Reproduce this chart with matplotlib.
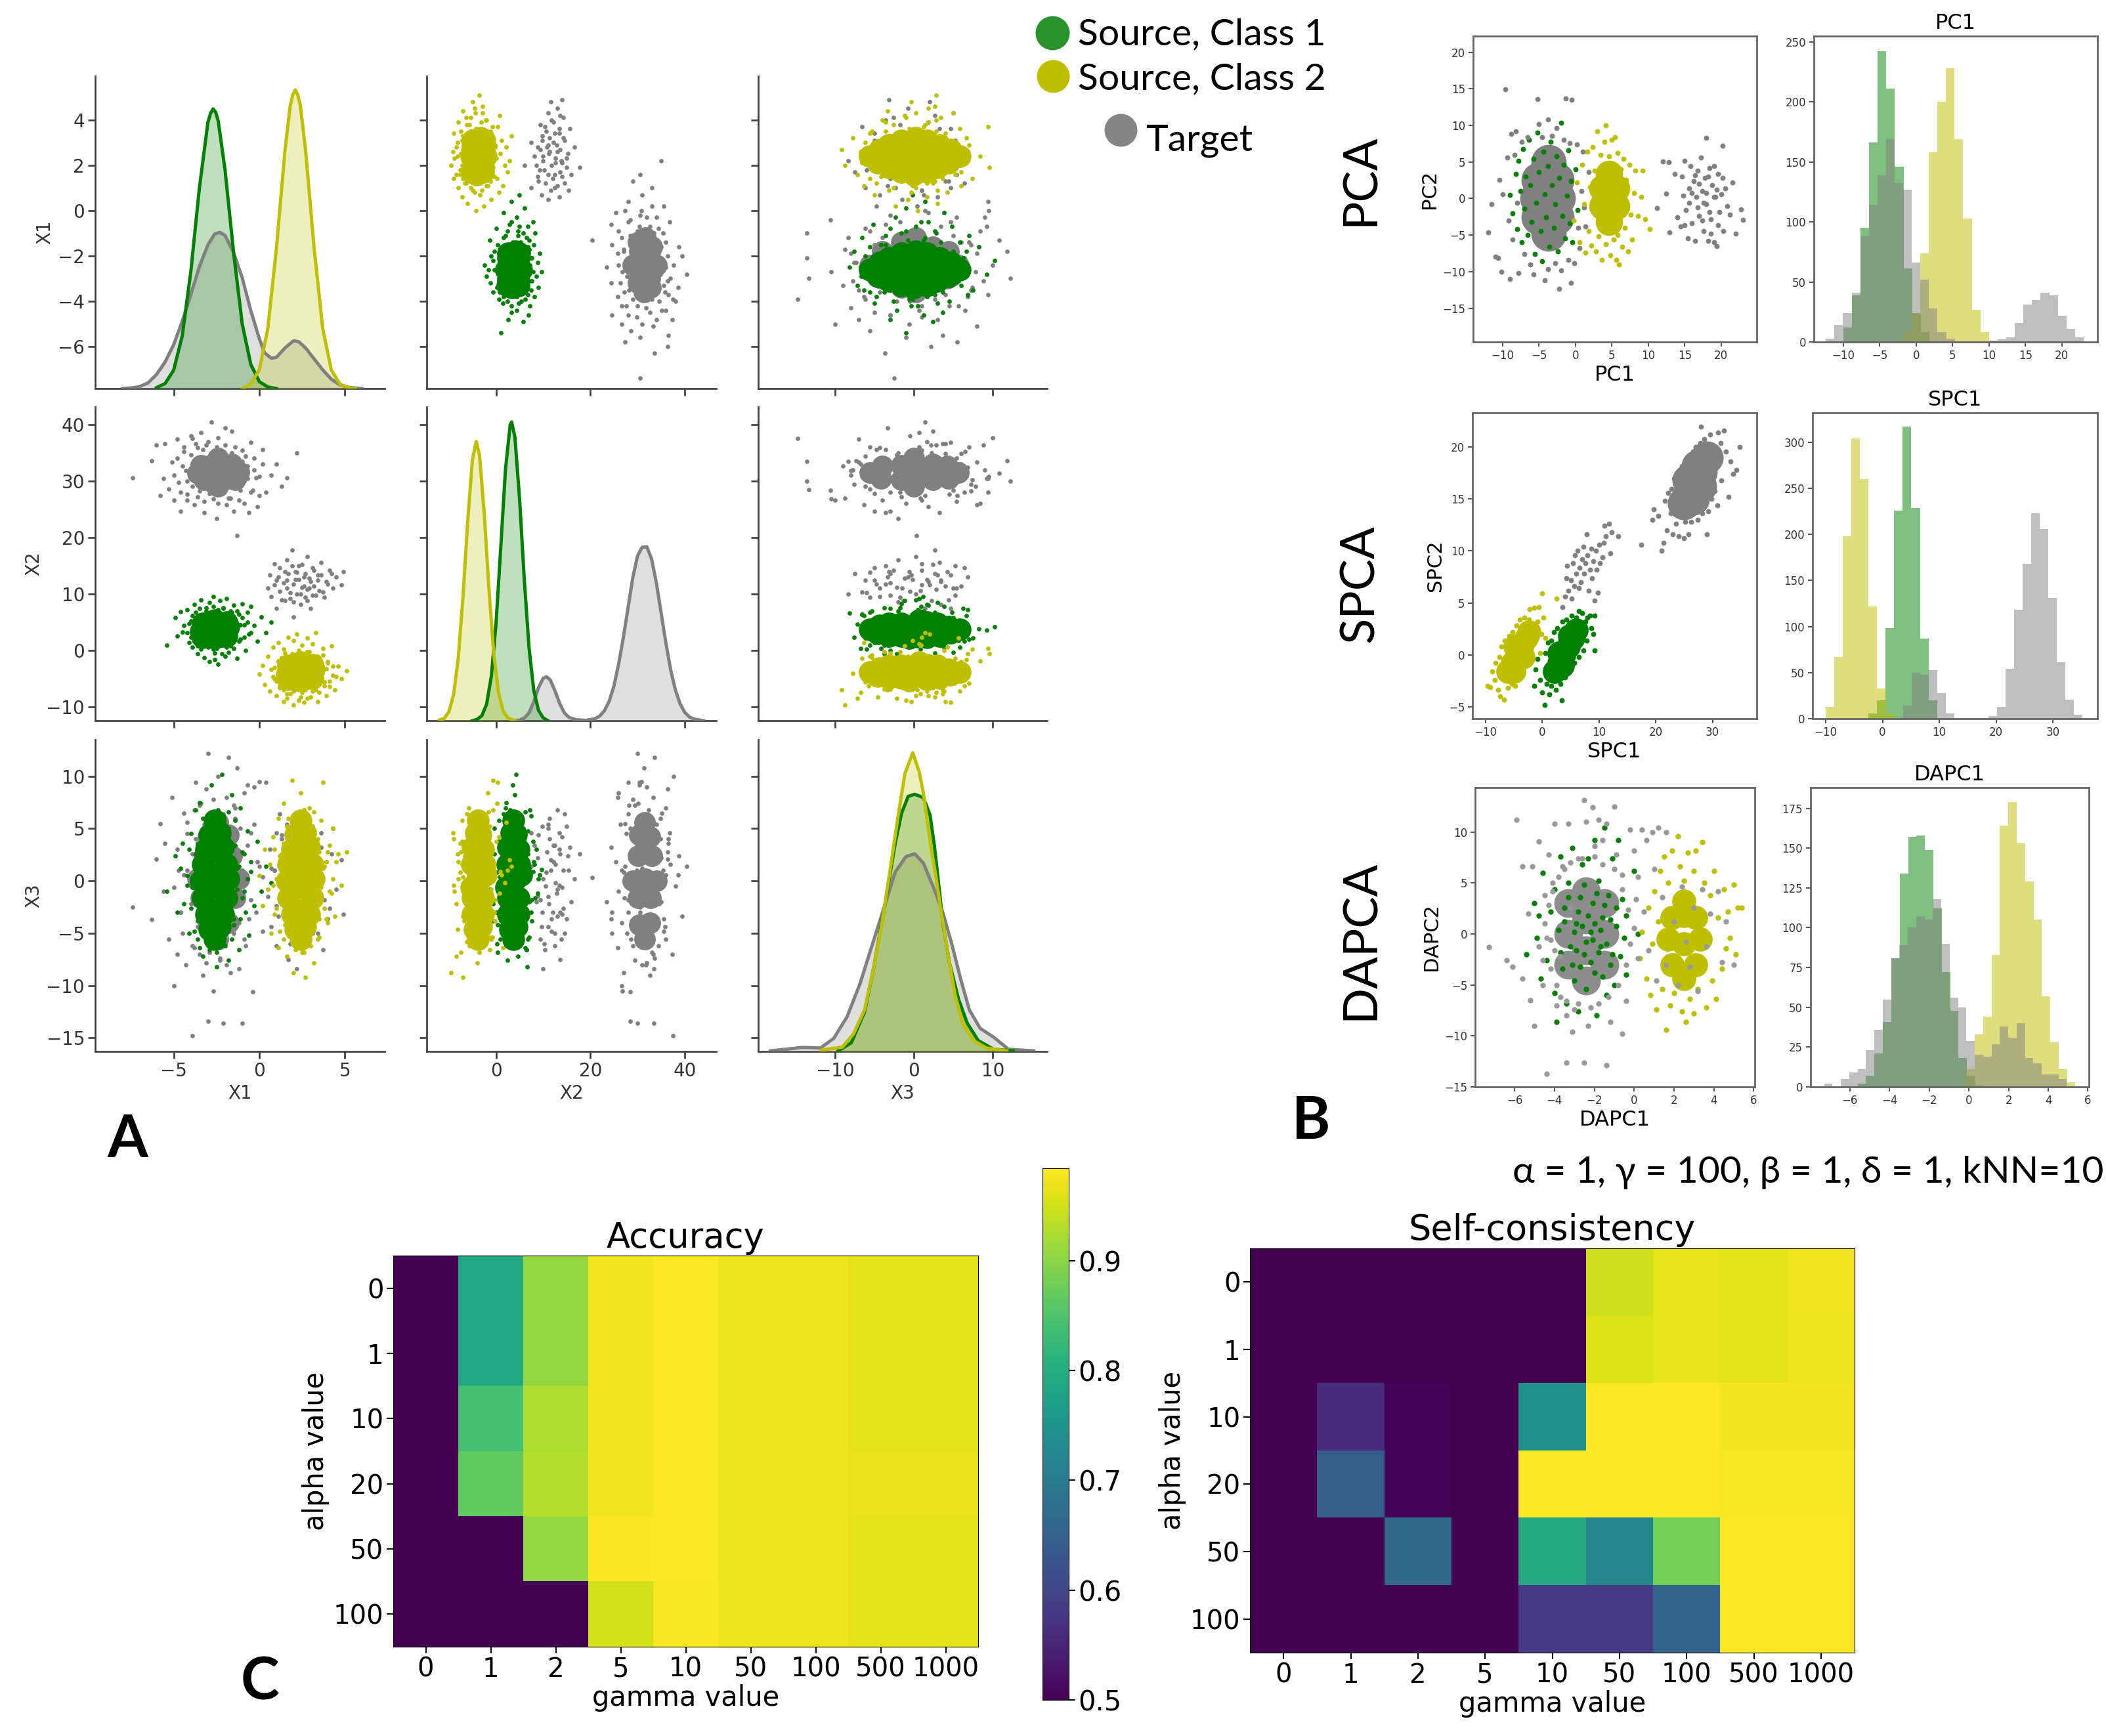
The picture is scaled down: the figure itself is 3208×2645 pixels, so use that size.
'''
Montage figure: pair plot of the raw data (A), PCA / SPCA / DAPCA projections
with histograms (B), and the two parameter heatmaps (C).
Scatter points are estimates of the clouds, far fewer than in the original,
so each dense middle is kept as a short "core" list drawn with wide markers.
'''
import numpy as np
import matplotlib
matplotlib.use('Agg')
import matplotlib.pyplot as plt

WIDTH, HEIGHT = 3208, 2645
GREEN, YELLOW, GRAY = 'green', '#bfbf00', 'gray'

feature_names = ['X1', 'X2', 'X3']
gamma_labels = ['0', '1', '2', '5', '10', '50', '100', '500', '1000']
alpha_labels = ['0', '1', '10', '20', '50', '100']

accuracy = [
    [.5, .79, .905, .975, .984, .972, .972, .965, .965],
    [.5, .79, .905, .975, .984, .972, .972, .965, .965],
    [.5, .84, .925, .975, .984, .972, .972, .965, .965],
    [.5, .865, .93, .975, .984, .972, .972, .968, .968],
    [.5, .5, .905, .982, .984, .972, .972, .965, .965],
    [.5, .5, .5, .952, .98, .972, .972, .965, .965],
]
self_consistency = [
    [.5, .5, .5, .5, .5, .945, .962, .96, .97],
    [.5, .5, .5, .5, .5, .955, .962, .96, .968],
    [.5, .56, .505, .5, .745, .98, .98, .972, .972],
    [.5, .645, .505, .5, .98, .98, .98, .975, .975],
    [.5, .5, .66, .5, .79, .72, .88, .98, .98],
    [.5, .5, .5, .5, .58, .58, .655, .98, .98],
]

# KDE curves of the pair plot diagonal, heights as a share of the panel
kde_x1_green = [(-6, .003), (-5.5, .016), (-5, .059), (-4.5, .168), (-4, .373), (-3.5, .64), (-3, .852), (-2.85, .88), (-2.7, .895),
                (-2.55, .885), (-2.4, .857), (-2, .70), (-1.5, .435), (-1, .208), (-.5, .078), (0, .022), (.5, .005), (1, 0)]
kde_x1_yellow = [(-1, 0), (-.5, .014), (0, .06), (.5, .193), (1, .449), (1.5, .763), (1.8, .904), (1.95, .94), (2.1, .956),
                 (2.25, .94), (2.4, .904), (2.7, .763), (3.2, .449), (3.7, .193), (4.2, .06), (4.7, .014), (5.2, .003), (5.6, 0)]
kde_x1_gray = [(-8, 0), (-7.5, .002), (-7, .006), (-6.5, .018), (-6, .045), (-5.5, .085), (-5, .14), (-4.5, .215),
               (-4, .30), (-3.5, .39), (-3, .46), (-2.6, .495), (-2.3, .50), (-2, .49), (-1.5, .435), (-1, .355),
               (-.5, .25), (0, .16), (.3, .115), (.7, .097), (1, .10), (1.5, .13), (2, .153), (2.3, .15), (2.7, .13),
               (3.2, .095), (3.7, .06), (4.2, .03), (4.7, .012), (5.2, .004), (6, 0)]
kde_x2_green = [(-5, 0), (-4, .004), (-3, .016), (-2, .052), (-1, .141), (0, .309), (1, .551), (2, .80), (3, .943),
                (3.3, .952), (4, .905), (5, .705), (6, .448), (7, .232), (8, .097), (9, .033), (10, .009), (11, 0)]
kde_x2_yellow = [(-12, .002), (-11, .007), (-10, .028), (-9, .083), (-8, .2), (-7, .396), (-6, .637), (-5, .833),
                 (-4.2, .89), (-3.5, .846), (-2.5, .66), (-1.5, .42), (-.5, .217), (.5, .091), (1.5, .031), (2.5, .009),
                 (4, 0)]
kde_x2_gray = [(4, 0), (5, .002), (6, .008), (7, .025), (8, .06), (9, .105), (10, .135), (10.7, .14), (11.5, .13),
               (12.5, .095), (13.5, .055), (14.5, .025), (15.5, .01), (17, .003), (19, .001), (21, .006), (22, .015),
               (23, .032), (24, .062), (25, .11), (26, .18), (27, .265), (28, .36), (29, .455), (30, .525), (31, .553),
               (32, .554), (33, .515), (34, .44), (35, .345), (36, .25), (37, .165), (38, .1), (39, .055), (40, .027),
               (41, .012), (42, .005), (44, 0)]
kde_x3_green = [(-9.64, .002), (-7.97, .028), (-6.3, .126), (-5.2, .26), (-3.8, .456), (-2.4, .667), (-1.58, .765),
                (-.75, .818), (.08, .825), (1.19, .814), (2.03, .758), (2.58, .66), (3.14, .533), (3.69, .407),
                (4.53, .281), (5.64, .168), (6.75, .091), (8.14, .035), (10.1, .007), (12.6, .002)]
kde_x3_yellow = [(-11.86, .004), (-9.1, .014), (-7.7, .056), (-6.3, .133), (-5.2, .26), (-4.1, .407), (-3, .59),
                 (-2.14, .737), (-1.17, .891), (-.17, .958), (.64, .898), (1.19, .828), (2.03, .674), (2.86, .547),
                 (3.4, .456), (4.25, .323), (5.2, .182), (6.2, .088), (7.56, .035), (9.2, .011), (11.8, .002)]
kde_x3_gray = [(-18.25, .002), (-14.1, .013), (-11.9, .011), (-10.2, .042), (-8.5, .112), (-6.86, .218), (-5.2, .351),
               (-3.8, .463), (-2.4, .575), (-1.03, .625), (.08, .634), (1.19, .604), (2.58, .519), (3.69, .442),
               (4.8, .344), (5.92, .232), (7.03, .133), (8.4, .074), (10.1, .046), (12, .007), (15.2, .002)]

# Pair plot clouds: X1, X2, X3 of each point
green_core = [(-2.6, 3.7, -5.6), (-2.9, 3.0, -4.6), (-2.3, 4.4, -4.4), (-3.1, 2.6, -3.2), (-2.1, 4.8, -3.2), (-2.6, 3.6, -2.8),
              (-3.3, 4.8, -1.6), (-1.9, 2.6, -1.6), (-2.6, 2.2, -.6), (-3.4, 3.4, 0), (-1.8, 4.2, .2), (-2.6, 5.4, .6),
              (-2.6, 3.8, 0), (-3.3, 2.4, 1.6), (-1.9, 5.0, 1.6), (-3.1, 4.8, 3), (-2.1, 2.6, 3.2), (-2.6, 3.7, 2.8),
              (-2.9, 4.2, 4.4), (-2.3, 3.2, 4.6), (-2.6, 3.7, 5.8)]
green_points = [(-5.4, 1.0, -1), (-4.9, 5.8, 2.4), (-4.8, 2.6, -3), (-4.6, 6.9, 1.2), (-4.5, 3.3, 3.6), (-4.4, 4.4, -2.2),
                (-4.2, 7.2, .5), (-4.1, 1.4, -5), (-4.0, 5.3, 4.5), (-3.9, .6, -.6), (-3.8, 8.1, 1.6), (-3.7, 3.0, 6.8),
                (-3.6, -.6, -3.8), (-3.5, 6.2, -6.4), (-3.5, 2.2, 7.5), (-3.4, 9.0, .2), (-3.3, 4.7, -7.2),
                (-3.2, -1.2, 2.1), (-3.1, 7.6, -1.8), (-3.1, 1.8, 5.6), (-3.0, 5.0, -4.6), (-2.9, -2.0, -.4),
                (-2.9, 8.5, 3.0), (-2.8, 3.6, 9.2), (-2.7, .2, -6.0), (-2.7, 9.6, 1.1), (-2.6, -1.6, -2.6),
                (-2.5, 6.6, -8.2), (-2.5, 2.8, 4.0), (-2.4, -2.4, .8), (-2.3, 8.8, -1.2), (-2.2, 4.2, 10.2),
                (-2.2, .9, -5.6), (-2.1, 7.4, 6.2), (-2.0, -1.0, 2.8), (-2.0, 5.6, -3.4), (-1.9, 9.2, .6),
                (-1.8, 2.4, -7.6), (-1.8, -.3, 5.0), (-1.7, 7.0, -2.0), (-1.6, 3.9, 8.2), (-1.5, 8.0, 1.8),
                (-1.5, .4, -4.2), (-1.4, 5.2, 3.4), (-1.3, -1.4, -.8), (-1.2, 6.4, -6.6), (-1.1, 2.0, 7.0),
                (-1.0, 8.3, -1.6), (-.9, 4.6, 2.6), (-.8, 0, -3.0), (-.7, 6.8, 4.8), (-.6, 2.9, -5.2), (-.5, 7.8, .9),
                (-.3, 4.4, -2.4), (-.1, 1.6, 3.8), (.1, 6.0, -1.0), (.4, 3.2, 1.4), (.7, 5.0, -.2)]
green_mid_points = [(-4.2, 3.2, -.4), (-4.1, 4.8, 3), (-4, 2.4, -2.6), (-3.9, 6.2, -.2), (-3.8, 1.6, 1.6), (-3.8, 4.4, -4.8),
                    (-3.7, 6.8, 2.6), (-3.6, .8, 3.6), (-3.6, 2.6, -5.6), (-3.5, 7.4, -3), (-3.4, .2, .8), (-3.3, 3.4, 6),
                    (-3.2, 5.8, 5), (-3.1, 7, -5.4), (-3, .6, 5.8), (-2.9, 6.4, -6.6), (-2.8, 1, -3.8), (-2.7, 7.8, 3.8),
                    (-2.6, -.4, 2.6), (-2.5, .4, -6.8), (-2.4, 7.2, 6.8), (-2.3, 1.6, 6.4), (-2.2, -.6, -2.2), (-2.1, 7.6, -3.8),
                    (-2, 2.2, -6.2), (-1.9, .6, 3.8), (-1.8, 6.2, 6.6), (-1.7, .8, .4), (-1.6, 6.8, -5.6), (-1.5, 2.4, -3.6),
                    (-1.4, 3.6, 5.8), (-1.3, 7, 1.2), (-1.2, 1.6, 1.4), (-1.1, 4.6, -3.6), (-1, 5.8, 2.8), (-.9, 2.4, -1),
                    (-.7, 5, .2), (-.5, 3.2, 1.8)]
yellow_core = [(2.4, -3.8, -5.6), (2.1, -4.5, -4.6), (2.7, -3.1, -4.4), (1.9, -4.9, -3.2), (2.9, -2.7, -3.2), (2.4, -3.9, -2.8),
               (1.7, -2.7, -1.6), (3.1, -4.9, -1.6), (2.4, -5.3, -.6), (1.6, -4.1, 0), (3.2, -3.3, .2), (2.4, -2.1, .6),
               (2.4, -3.7, 0), (1.7, -5.1, 1.6), (3.1, -2.5, 1.6), (1.9, -2.7, 3), (2.9, -4.9, 3.2), (2.4, -3.8, 2.8),
               (2.1, -3.3, 4.4), (2.7, -4.3, 4.6), (2.4, -3.8, 5.8)]
yellow_points = [(0, -4.2, .5), (.2, -2.6, -2.4), (.3, -6.0, 3.0), (.5, -1.0, -.8), (.6, -7.2, 1.6), (.7, -3.4, -5.0),
                 (.8, .6, 4.2), (.9, -5.0, -3.2), (1.0, -8.0, .2), (1.1, -2.0, 6.0), (1.1, 1.4, -6.4), (1.2, -6.6, 2.4),
                 (1.3, -3.8, -1.6), (1.4, -9.0, -.4), (1.4, .2, 7.4), (1.5, -5.4, -4.2), (1.6, -1.4, 5.2),
                 (1.6, -8.4, -7.2), (1.7, 2.4, 1.0), (1.8, -4.6, -2.0), (1.8, -7.6, 3.6), (1.9, -.6, 9.6),
                 (2.0, -9.6, -8.8), (2.0, 1.8, -.2), (2.1, -3.0, 6.4), (2.2, -6.2, -5.8), (2.2, 2.9, 2.0),
                 (2.3, -8.8, -1.0), (2.4, -1.8, 8.4), (2.4, -5.2, -3.6), (2.5, .9, .9), (2.6, -9.2, 4.6),
                 (2.6, -3.6, -6.8), (2.7, -7.0, -9.2), (2.8, 2.2, 5.6), (2.8, -.2, -1.8), (2.9, -5.8, 7.0),
                 (3.0, -8.2, -4.6), (3.0, -2.4, 3.2), (3.1, 1.2, .6), (3.2, -6.8, -3.0), (3.2, -4.0, -7.8),
                 (3.3, 3.2, 1.4), (3.4, -9.0, 4.0), (3.5, -1.2, -5.4), (3.5, -7.4, 2.8), (3.6, -3.2, -.6),
                 (3.7, .4, 9.4), (3.8, -5.6, -2.6), (3.9, -8.0, 1.8), (4.0, -2.2, -4.0), (4.1, -6.4, 3.4),
                 (4.2, .8, -1.2), (4.3, -4.4, 5.0), (4.4, -7.0, -3.4), (4.6, -2.8, 2.6), (4.8, -5.0, -.4), (5.1, -3.6, 2.8)]
yellow_mid_points = [(.8, -4.6, -.4), (.9, -3, 3), (1, -5.4, -2.6), (1.1, -1.8, -.2), (1.2, -6.4, 1.6), (1.2, -3.4, -4.8),
                     (1.3, -1.2, 2.6), (1.4, -7, 3.6), (1.4, -5.2, -5.6), (1.5, -.4, -3), (1.6, -7.6, .8), (1.7, -4.4, 6),
                     (1.8, -2, 5), (1.9, -.8, -5.4), (2, -7.2, 5.8), (2.1, -1.4, -6.6), (2.2, -6.8, -3.8), (2.3, 0, 3.8),
                     (2.4, -8.2, 2.6), (2.5, -7.4, -6.8), (2.6, -.6, 6.8), (2.7, -6.2, 6.4), (2.8, -8.4, -2.2), (2.9, -.2, -3.8),
                     (3, -5.6, -6.2), (3.1, -7.2, 3.8), (3.2, -1.6, 6.6), (3.3, -7, .4), (3.4, -1, -5.6), (3.5, -5.4, -3.6),
                     (3.6, -4.2, 5.8), (3.7, -.8, 1.2), (3.8, -6.2, 1.4), (3.9, -3.2, -3.6), (4, -2, 2.8), (4.1, -5.4, -1),
                     (4.3, -2.8, .2), (4.5, -4.6, 1.8)]
target_main_core = [(-2.4, 31.5, -5.6), (-3, 30.4, -4.2), (-1.8, 32.6, -4), (-3.4, 32.8, -1.6), (-1.4, 30.2, -1.6), (-2.4, 29, 0),
                    (-2.4, 34, 0), (-3.6, 31.4, .2), (-1.2, 31.6, .2), (-2.4, 31.5, 0), (-3.2, 30.2, 2.4), (-1.6, 33, 2.4),
                    (-2.4, 31.5, 3), (-3, 32.6, 4.2), (-1.8, 30.4, 4.4), (-2.4, 31.5, 5.6)]
target_main_points = [(-7.4, 30.6, -2.5), (-6.3, 33.6, -3.7), (-6.0, 36.4, 2.1), (-5.8, 27.4, 5.5), (-5.6, 30.5, -1.0),
                      (-5.5, 36.6, 3.6), (-5.3, 28.6, -5.6), (-5.1, 33.4, 8.0), (-5.0, 26.6, -10.0), (-4.8, 37.4, -7.0),
                      (-4.7, 29.8, 1.0), (-4.6, 24.6, -3.0), (-4.4, 35.2, 6.5), (-4.3, 31.8, -8.0), (-4.2, 27.6, 4.5),
                      (-4.0, 38.0, -.5), (-3.9, 37.5, -14.8), (-3.9, 33.0, 2.6), (-3.8, 25.8, -6.4), (-3.7, 30.4, 9.4),
                      (-3.6, 35.9, -4.4), (-3.5, 28.2, 7.2), (-3.4, 38.6, .6), (-3.3, 32.6, -9.0), (-3.2, 24.4, 3.2),
                      (-3.1, 36.4, 8.8), (-3.0, 28.5, -13.4), (-3.0, 30.0, 12.2), (-2.9, 33.0, -6.8), (-2.8, 40.4, 1.4),
                      (-2.7, 26.8, -10.5), (-2.6, 31.6, 6.0), (-2.5, 23.4, -2.0), (-2.4, 37.6, 10.0), (-2.3, 29.4, -7.6),
                      (-2.2, 34.8, 4.0), (-2.1, 30.0, -13.6), (-2.0, 39.4, -3.4), (-1.9, 25.8, 8.0), (-1.8, 33.6, 11.8),
                      (-1.7, 27.0, -8.8), (-1.6, 38.8, 2.4), (-1.5, 24.6, -5.0), (-1.4, 36.0, 7.0), (-1.3, 20.4, .3),
                      (-1.3, 31.4, 10.8), (-1.2, 33.5, -8.4), (-1.1, 28.4, 5.0), (-1.0, 33.5, -13.6), (-.9, 26.0, 8.4),
                      (-.8, 34.4, -6.2), (-.7, 30.4, 9.2), (-.6, 24.4, -3.6), (-.5, 36.8, 4.6), (-.4, 28.4, -10.6),
                      (-.3, 32.0, 9.0), (-.1, 25.4, 1.8), (0, 30.8, 9.5), (.2, 35.6, -4.8), (.4, 28.0, 9.4),
                      (.7, 31.0, 1.2), (1.0, 33.0, -2.4), (1.3, 29.0, 4.0), (1.6, 30.6, -.8), (2.2, 35.0, 2.2)]
target_main_mid_points = [(-5, 31, -.6), (-4.8, 34, 3), (-4.6, 28, -3), (-4.5, 32.6, -5), (-4.4, 36, .6), (-4.2, 30, 5.6),
                          (-4.2, 26.6, 1), (-4, 34.6, -2.2), (-3.9, 29, -6.2), (-3.8, 32.4, 6.8), (-3.7, 36.6, 4), (-3.6, 27.2, -1.6),
                          (-3.5, 33.4, -7), (-3.4, 30.2, 7.4), (-3.3, 35.6, -3.6), (-3.2, 26.4, 5.4), (-3.1, 32, -7.8), (-3, 37, 1.6),
                          (-2.9, 27.8, -5), (-2.8, 34.8, 6), (-2.7, 29, 7.8), (-2.5, 36, -5.6), (-2.4, 26, -1), (-2.3, 33.6, -7.4),
                          (-2.1, 28, 6.4), (-2, 36.4, 2.8), (-1.9, 31, -8), (-1.8, 27, .8), (-1.6, 35, -2), (-1.5, 29.4, 7.2),
                          (-1.4, 33, 6), (-1.2, 26.6, -4), (-1, 35.4, 1), (-.9, 30, -5.6), (-.7, 32.6, 3.4), (-.5, 28, -1.8),
                          (-.3, 34, 5.4), (-.2, 30.6, -3), (0, 27.4, 1.4), (.2, 33, .4)]
target_small_points = [(.5, 11.0, -1.5), (.6, 13.4, 3.0), (.7, 9.6, -4.4), (.9, 15.4, 1.0), (1.0, 12.4, -6.2), (1.0, 7.5, 4.6),
                       (1.2, 10.5, -.5), (1.2, 14.6, 6.4), (1.4, 12.0, -3.0), (1.5, 8.8, 2.2), (1.6, 16.0, -2.0),
                       (1.6, 11.0, 5.4), (1.7, 13.6, -7.5), (1.8, 9.2, .6), (1.9, 17.8, 2.6), (2.0, 11.8, -4.8),
                       (2.0, 6.0, -1.0), (2.1, 14.0, 4.2), (2.2, 10.0, -8.4), (2.3, 12.6, 1.6), (2.3, 15.0, -3.6),
                       (2.4, 8.2, 3.4), (2.5, 11.2, -2.2), (2.6, 13.0, 6.8), (2.7, 9.4, -5.6), (2.8, 16.6, .2),
                       (2.8, 10.8, 2.8), (2.9, 12.8, -1.2), (3.0, 7.4, 1.4), (3.1, 14.6, -5.0), (3.2, 11.4, 4.0),
                       (3.3, 9.8, -3.0), (3.4, 13.4, -.4), (3.6, 15.6, 3.2), (3.7, 10.4, -6.6), (3.9, 12.2, 1.8),
                       (4.1, 14.2, -2.6), (4.3, 11.0, 5.0), (4.5, 13.0, -.8), (4.8, 11.6, 2.0), (4.9, 14.0, -3.2),
                       (.9, 11.6, 1), (1.1, 13, -3.4), (1.3, 9, 4.4), (1.5, 14, -.6), (1.6, 12.4, 3.4), (1.8, 10.2, -6),
                       (1.9, 15, 5.2), (2, 8.6, -2), (2.1, 12.6, -.2), (2.2, 13.8, -5.6), (2.4, 10, .2), (2.5, 15.2, 2.4),
                       (2.6, 11.4, 6), (2.7, 13.6, -3), (2.8, 8.8, -1.4), (2.9, 11, -4.4), (3, 12.2, 3.4), (3.1, 9.8, 5.2),
                       (3.2, 14.2, 1), (3.4, 12.4, -5), (3.5, 10.6, .8), (3.6, 13.4, 4.6), (3.8, 9.4, -1.8), (4, 11.8, -3.6),
                       (4.2, 13.6, 2.6)]

# PCA scatter: PC1, PC2
pca_green_points = [(-9, .5), (-8.6, -2), (-8.2, 3.4), (-8, -4.2), (-7.8, 5.2), (-7.6, 1), (-7.4, -6), (-7.2, 6.8), (-7, -1.4),
                    (-6.8, 3), (-6.6, -5), (-6.4, 8), (-6.2, 1.8), (-6, -3.2), (-5.8, 5.4), (-5.6, -7.6), (-5.4, -.6),
                    (-5.2, 9), (-5, 3.6), (-4.8, -4.4), (-4.6, -8.6), (-4.4, 6.4), (-4.2, .6), (-4, -2.6), (-3.8, 4.4),
                    (-3.6, -6.6), (-3.4, 7.8), (-3.2, 1.8), (-3, -4), (-2.8, -.8), (-2.6, 5.8), (-2.4, -7.2), (-2.2, 2.8),
                    (-2, 10.4), (-1.8, -2.4), (-1.6, 4.6), (-1.4, -5.4), (-1.2, .4), (-1, 6.6), (-.8, -3.4), (-.6, 2.4),
                    (-.4, -6), (0, 4), (.3, -1.6)]
pca_gray_core = [(-3.7, -4.8), (-5, -2.6), (-2.6, -2.6), (-5.2, 0), (-3.7, 0), (-2.4, 0), (-5, 2.6), (-2.6, 2.6), (-3.7, 5)]
pca_gray_points = [(-12, -4.6), (-11.5, -.8), (-11, -7.9), (-10.6, -8.1), (-10.4, 2.6), (-10.2, -10), (-9.6, 14.9), (-10, .6),
                   (-9.4, 5.6), (-9.2, -3), (-9, -11), (-8.8, 8.8), (-8.6, -5.6), (-8.4, 6), (-8.2, 9.2), (-8, -.6), (-7.8, -10.2),
                   (-7.4, 7.8), (-7, -7.6), (-6.6, 8.4), (-6.2, -9), (-5.8, -10.4), (-5.2, 13.6), (-5, 10.2), (-4.6, 8.4),
                   (-4.2, -11.2), (-3.8, -9.6), (-3.8, 10.8), (-3.2, 8.6), (-2.8, -8.8), (-2.6, 9.6), (-2.2, -12.3), (-2, -9.8),
                   (-1.6, 8), (-1.3, 13.7), (-1, -8.4), (-.8, 7.6), (-.6, -11.5), (-.5, 13.5), (-.2, -8.8), (.2, 7.4), (.6, -6.8),
                   (1, 6.4), (1.4, -3.8), (1.8, 3.6), (.8, 1), (1.2, -1.2), (.4, -4)]
pca_gray_far_points = [(11.2, -1.3), (12, 5.1), (12.5, .7), (12.8, 5), (12.9, -4.6), (13.6, 3.4), (14, -2.6), (14.4, -3.8), (14.8, .4),
                       (15, 5.2), (15.2, -1.6), (15.4, -5.4), (15.6, 1.4), (15.8, 4.4), (16, -3.4), (16.2, 2.4), (16.4, -5.8), (16.6, .2),
                       (16.8, 3.8), (17, -2.4), (17.2, 5.6), (17.4, 1), (17.6, -4.4), (17.8, 2.8), (18, 8.3), (18, -.8), (18.2, -5.8),
                       (18.4, 4.2), (18.6, -2.8), (18.8, 1.8), (19, -6), (19.2, .2), (19.4, -6.5), (19.6, 3.4), (19.8, -1.8), (20.2, 7.2),
                       (20.3, -4.4), (20.6, 1.4), (21.2, -2.2), (21.6, 2.2), (22, -4.8), (22.7, -1.5), (23, -2.9),
                       (14.6, 3), (15, -3.6), (15.6, -.6), (16, .8), (16.4, 3.2), (16.8, -1.2), (17, 2), (17.4, -3), (17.6, -.6), (18, .8),
                       (18.2, 3), (18.4, -1.8), (18.6, -4.8), (19, .2), (19, 4.4), (19.4, 1.2), (19.6, -3.6), (20, .6), (20.2, 2.8), (20.8, -1)]
pca_yellow_core = [(4.6, -3.2), (3.7, -1), (5.6, -1), (3.7, 1.4), (5.6, 1.4), (4.6, 3.4)]
pca_yellow_points = [(-.3, -3), (.2, 2.2), (.6, -6), (.9, 4.6), (1.2, -.8), (1.4, -7.4), (1.6, 6.4), (1.8, -4.4), (2, 1.6), (2.2, -6.4),
                     (2.4, 7), (2.6, 3.8), (2.8, -7.2), (3, 9.2), (3.2, -5.2), (3.4, 6), (3.6, -8.4), (4, 7.8), (4.2, -6.2), (4.2, 10), (4.6, 5.8),
                     (4.8, -7.8), (5, 8), (5.2, -5.6), (5.4, 8.4), (5.6, -8.4), (5.8, 6.2), (5.8, -5), (6, -9), (6.2, 4), (6.4, -6.6), (6.6, 5.4),
                     (6.8, -4), (7, 2.6), (7.2, -7.2), (7.4, 4.6), (7.6, -2.2), (7.8, -5.6), (8, .8), (8.2, 3.8), (8.6, -2.4), (9, .2),
                     (9.2, 3.8), (9.6, -2.8), (10.2, -4.2)]

# SPCA scatter: SPC1, SPC2
spca_green_core = [(2.2, -1.6), (3, -.8), (3.8, 0), (4.6, .8), (5.4, 1.6), (6, 2.4), (3.6, -1), (4.8, 1.8), (3, .2)]
spca_green_points = [(-1.4, -3), (-1.2, -1.4), (-.9, -.4), (-.4, -2.4), (0, -3.6), (.4, -4.8), (.6, .2), (.8, -2.8), (1, 1.2), (1.2, -3.8),
                     (1.6, -3), (1.6, 1.4), (2, 2.2), (2.4, -3.4), (2.6, -.8), (2.6, 2.6), (3.2, -2.8), (3.4, -4.4), (3.6, 3.2), (4, -2.2), (4.2, 3.4),
                     (4.6, -1.6), (5, 3), (5.2, 3.8), (5.6, -.8), (6, 3.6), (6.4, 4.2), (6.4, -.2), (6.8, 2.6), (7, 4), (7.2, .4), (7.6, 3.2),
                     (7.8, 1.4), (8, 3.6), (8.4, 3.8), (8.6, 2.6), (9, 2), (9.2, 3.8), (9.2, .4)]
spca_yellow_core = [(-6, -1.6), (-5.2, -.8), (-4.4, 0), (-3.6, .8), (-2.8, 1.6), (-2.4, 2.2), (-5, -1.6), (-3.4, -.2), (-4.8, .8)]
spca_yellow_points = [(-9.6, -3), (-9.2, -3.1), (-8.8, -1.6), (-8.4, -2.4), (-8.2, -.8), (-7.8, -3.4), (-7.6, -.2), (-7.4, -4), (-7.2, .8),
                      (-6.8, -4.3), (-6.8, -2.4), (-6.6, 1.4), (-6, -3.2), (-5.8, 1.8), (-5.4, -2.8), (-5.2, 2.2), (-4.8, -3), (-4.6, 2.8),
                      (-4.2, -2), (-4, 3.4), (-3.8, 2), (-3.4, -1.6), (-3.2, 3.6), (-2.8, -1), (-2.4, 3.4), (-2.2, 4.4), (-1.8, -.4), (-1.6, 3),
                      (-1.4, 4.5), (-1.2, 1.4), (-.8, 3.2), (-.6, 4.6), (-.4, .2), (-.2, 2), (0, 5.9), (.2, 3.6), (.5, 1.6), (2.5, 5.4)]
spca_gray_mid_points = [(3.6, 4.6), (4, 5.6), (4.2, 7.4), (4.4, 8.6), (4.6, 6.2), (5, 7.2), (5.2, 5.4), (5.4, 8.8), (5.6, 6.6), (5.8, 9.6),
                        (6, 7.8), (6.2, 10), (6.4, 6.4), (6.6, 8.4), (6.8, 7), (7, 9.2), (7.2, 10.4), (7.4, 7.8), (7.6, 8.8), (7.8, 11.6), (8, 9.6),
                        (8.2, 6.2), (8.4, 8.2), (8.6, 10.2), (8.8, 7.4), (9, 9), (9.2, 5.2), (9.4, 10), (9.6, 8.2), (9.8, 6), (10, 10.6), (10.2, 8.8),
                        (10.6, 9.4), (10.8, 10.8), (11.2, 11.4), (11, 12.4), (11.8, 12.6), (12, 9.8), (12.2, 11.8), (13.4, 11.4)]
spca_gray_core = [(25, 14.6), (26, 15.6), (27, 16.6), (28, 17.6), (29, 19), (26.6, 15), (27.8, 16.2), (25.8, 16.8), (27.4, 18.2)]
spca_gray_points = [(17.4, 10.6), (19.4, 13), (19.6, 14), (20.4, 13.4), (21, 10), (21.4, 10.8), (21.6, 14.8), (22, 12), (22.2, 15.6), (22.6, 13.6),
                    (22.8, 16), (23, 11.6), (23.2, 17), (23.6, 12.6), (24, 11.4), (24.2, 16.8), (24.6, 18.2), (25, 11.2), (25.2, 12.8), (25.4, 18.8),
                    (25.8, 11.6), (26, 19.2), (26.2, 12.8), (26.6, 19.6), (27, 20), (27.4, 13), (27.8, 20.4), (28, 22), (28.2, 13.6), (28.6, 20.8),
                    (29, 11.6), (29.2, 13.8), (29.6, 21.2), (29.8, 15), (30, 20), (30.4, 15.8), (30.8, 14.4), (31, 21.4), (31.4, 20.4), (31.6, 16.8),
                    (32, 21.6), (32.4, 19.6), (32.8, 15.2), (33.2, 18.6), (33.6, 17.4), (34.2, 17.8), (34.8, 20)]

# DAPCA scatter: DAPC1, DAPC2
dapca_green_points = [(-5.4, -2), (-5, 3), (-4.9, -.4), (-4.8, 1.8), (-4.7, -4.4), (-4.6, 6), (-4.4, -2.6), (-4.2, 2.2), (-4, -5.8), (-4, 4.4),
                      (-3.9, -8.6), (-3.8, .4), (-3.7, 7.6), (-3.6, -3.4), (-3.5, 2.6), (-3.4, -6.8), (-3.3, 5), (-3.2, -1.2), (-3.1, 8.4), (-3, -4.6),
                      (-2.9, 1), (-2.8, -7.6), (-2.7, 3.6), (-2.6, 6.8), (-2.5, -2), (-2.4, -5.4), (-2.3, 7.4), (-2.2, .2), (-2.1, 3), (-2, -3.8),
                      (-2, 9.2), (-1.9, -8), (-1.8, 5.2), (-1.7, -1.2), (-1.6, 1.6), (-1.5, 10.4), (-1.4, -6), (-1.3, 3.8), (-1.2, -3), (-1.1, 7.4),
                      (-1, -5), (-.9, .8), (-.8, 9.2), (-.7, -2.2), (-.6, 3.4), (-.5, -.4), (-.4, 1.8), (-.4, -4), (0, 6.2), (.2, 0),
                      (-3.7, -1.8), (-3.5, 1.2), (-3.3, 3.6), (-3.1, -3), (-3, .2), (-2.9, -1.6), (-2.8, 2.2), (-2.7, -3.2), (-2.6, .8), (-2.5, 4.8),
                      (-2.4, -.8), (-2.3, 1.8), (-2.2, -2.8), (-2.1, -.6), (-2, 1), (-1.9, 4), (-1.8, -1.8), (-1.7, .4), (-1.6, -4.2), (-1.5, 2.8),
                      (-1.4, -1), (-1.2, 1.4), (-1.1, -2), (-.9, 2.6)]
dapca_gray_core = [(-3.3, -3), (-3.3, 0), (-3.3, 3), (-2.4, -4.6), (-2.4, -1.6), (-2.4, 1.4), (-2.4, 4.2), (-1.5, -3), (-1.5, 0), (-1.5, 3)]
dapca_gray_points = [(-7.3, -1.3), (-6.4, -2.6), (-6.1, -3.2), (-5.9, 11.2), (-5.6, 6.6), (-5.6, -4.4), (-5.3, 2), (-5.2, -6.5), (-5.1, 6.6), (-5, -9),
                     (-4.8, 9.1), (-4.8, -1.2), (-4.6, -5), (-4.5, 3.8), (-4.4, -13.7), (-4.3, 7.8), (-4.2, -.6), (-4.1, 5), (-4, 10.8), (-3.9, -7), (-3.7, -2.2),
                     (-3.5, 6.4), (-3.4, -12.6), (-3.4, -8), (-3.3, 10.8), (-3.2, 2.6), (-3.1, -9.6), (-2.8, 7.4), (-2.5, -12.6), (-2.5, 13.1), (-2.4, 11), (-2.3, -9),
                     (-2.1, 12.4), (-2, 8.6), (-1.8, 11.2), (-1.6, 9.2), (-1.4, -12.9), (-1.4, 10.8), (-1.2, -8.6), (-1, 12.5), (-.9, 7.8), (-.6, -9.8), (-.6, 5.8),
                     (-.4, -6.6), (-.2, 10.2), (0, 8.2), (.2, 5.6), (.4, 10.2), (.5, 2.2), (.6, 9.2), (.7, -1.6), (.9, 10), (1, 6.4), (1.1, -4.6), (1.2, 10.4), (1.4, 3.6),
                     (1.6, -3), (1.6, 10), (2, 1.2), (2.2, -5), (2.4, 4.6), (2.6, -.8), (2.8, -3.2), (3, 2.6), (3.2, -5.6), (3.4, 4.4), (3.6, -1.2), (3.8, 2), (4.2, 4.2),
                     (4.4, -2.8), (4.6, 1.2), (5, -3),
                     (-4.6, -2.6), (-4.5, 1), (-4.4, -.4), (-4.3, 2.8), (-4.2, -3.4), (-4.1, 4.2), (-4, -1.6), (-3.9, -5), (-3.8, 5.6), (-3.7, -6.2), (-3.6, 6.6),
                     (-3.4, -6.6), (-3.2, 7), (-3, -7.4), (-2.8, -6.8), (-2.6, 7.4), (-2.2, -7.2), (-2, 7.6), (-1.8, -6.8), (-1.6, 6.8), (-1.3, -6.2), (-1, 6.4),
                     (-.8, -5), (-.6, 4.4), (-.4, -3), (-.3, 2.4), (-.2, -1), (0, .6), (.1, 3.4), (.2, -2.4)]
dapca_yellow_core = [(1.9, -3), (3.1, -3), (2.5, -4.4), (1.7, -.5), (3.3, -.5), (2.5, -1), (2.5, 1.8), (1.9, 1.6), (3.1, 1.6), (2.5, 3.2)]
dapca_yellow_points = [(.3, -2.4), (.4, .2), (.6, -4.4), (.7, 2.6), (.8, -6), (.9, -1), (1, 4.2), (1.1, -7.4), (1.2, 1.2), (1.3, 6.2), (1.4, -5.4), (1.5, 7.6),
                       (1.6, -9.4), (1.7, 5), (1.8, -7), (1.9, 8.2), (2, -5.8), (2.2, 9.6), (2.3, 6.6), (2.4, -7.6), (2.5, 5.2), (2.6, -8.6), (2.7, 8), (2.8, -6.4),
                       (3, 6.2), (3, -7.8), (3.1, 8.2), (3.2, -5.4), (3.4, 9), (3.5, 5), (3.6, -7.2), (3.8, 3.8), (3.9, -4.6), (4, 6.2), (4.1, -6.4), (4.2, 1.6), (4.4, -3.4),
                       (4.5, 4.4), (4.6, -1.4), (4.7, 2.2), (4.8, -.4), (5, 4.8), (5.1, -2), (5.2, 2.6), (5.4, 2.6)]

# Histogram bar heights and the range their bins cover
pca_hist_green = [12, 39, 95, 166, 242, 211, 146, 61, 24, 8]
pca_hist_yellow = [1, 1, 8, 24, 74, 158, 200, 228, 169, 103, 27, 8, 1]
pca_hist_gray = [3, 14, 24, 41, 88, 114, 139, 169, 132, 127, 66, 52, 28, 8, 3, 0, 0, 0, 0, 1, 2, 4, 16, 31, 35, 41, 39, 22, 11, 4]
pca_hist_ranges = [(-10, 1.8), (-4.2, 11.2), (-12.4, 23.0)]
spca_hist_green = [6, 20, 98, 226, 317, 229, 87, 20]
spca_hist_yellow = [13, 67, 198, 304, 260, 122, 33, 6, 1]
spca_hist_gray = [14, 50, 48, 53, 28, 6, 1, 0, 0, 1, 3, 13, 54, 118, 168, 223, 206, 131, 61, 21, 4]
spca_hist_ranges = [(-2.48, 9.6), (-10, 3.6), (3.6, 35.2)]
dapca_hist_green = [2, 7, 21, 41, 81, 134, 157, 158, 149, 112, 72, 48, 18, 7, 1]
dapca_hist_yellow = [1, 11, 33, 44, 83, 164, 179, 153, 129, 105, 57, 28, 11, 3]
dapca_hist_gray = [2, 0, 5, 9, 11, 23, 36, 55, 81, 89, 100, 107, 105, 118, 90, 56, 50, 29, 20, 19, 27, 38, 31, 40, 18, 15, 8, 8, 5]
dapca_hist_ranges = [(-5.61, .75), (-.55, 5.37), (-7.3, 4.94)]


def px_axes(fig, left, top, right, bottom, **kwargs):
    return fig.add_axes([left / WIDTH, 1 - bottom / HEIGHT,
                         (right - left) / WIDTH, (bottom - top) / HEIGHT], **kwargs)


def style_spines(ax, color, width, full_box=False):
    for name, spine in ax.spines.items():
        spine.set_color(color)
        spine.set_linewidth(width)
        if name in ('top', 'right') and not full_box:
            spine.set_visible(False)


def draw_kde(ax, curve, color):
    pts = np.array(curve)
    ax.fill_between(pts[:, 0], 0, pts[:, 1], color=color, alpha=.25, linewidth=0)
    ax.plot(pts[:, 0], pts[:, 1], color=color, lw=3.6)


def draw_pairplot(fig):
    cols = [(145, 586), (650, 1091), (1155, 1595)]
    rows = [(116, 592), (620, 1098), (1127, 1602)]
    limits = [(-9.58, 7.32), (-14.7, 46.7), (-19.8, 16.9)]
    y_limits = [(-7.85, 5.93), (-12.4, 43.1), (-16.3, 13.5)]
    x_ticks = [[-5, 0, 5], [0, 20, 40], [-10, 0, 10]]
    y_ticks = [[-6, -4, -2, 0, 2, 4], [-10, 0, 10, 20, 30, 40], [-15, -10, -5, 0, 5, 10]]
    curves = [(kde_x1_gray, kde_x1_green, kde_x1_yellow),
              (kde_x2_gray, kde_x2_green, kde_x2_yellow),
              (kde_x3_gray, kde_x3_green, kde_x3_yellow)]
    clouds = [(target_main_core, 560, GRAY), (target_main_points, 24, GRAY), (target_main_mid_points, 24, GRAY),
              (target_small_points, 24, GRAY),
              (green_core, 620, GREEN), (green_points, 24, GREEN), (green_mid_points, 24, GREEN),
              (yellow_core, 620, YELLOW), (yellow_points, 24, YELLOW), (yellow_mid_points, 24, YELLOW)]
    for r, (top, bottom) in enumerate(rows):
        for c, (left, right) in enumerate(cols):
            ax = px_axes(fig, left, top, right, bottom)
            ax.set_xlim(limits[c])
            ax.set_ylim(y_limits[r])
            ax.set_xticks(x_ticks[c])
            ax.set_yticks(y_ticks[r])
            style_spines(ax, '#444444', 2)
            ax.tick_params(length=8, width=2, color='#444444', labelsize=20, labelcolor='#333333',
                           labelleft=c == 0, labelbottom=r == 2)
            if c == 0:
                ax.set_ylabel(feature_names[r], fontsize=20, color='#333333')
            if r == 2:
                ax.set_xlabel(feature_names[c], fontsize=20, color='#333333')
            if r == c:
                diag = px_axes(fig, left, top, right, bottom)
                diag.set_xlim(limits[c])
                diag.set_ylim(0, 1)
                diag.axis('off')
                for curve, color in zip(curves[c], (GRAY, GREEN, YELLOW)):
                    draw_kde(diag, curve, color)
            else:
                for points, size, color in clouds:
                    pts = np.array(points)
                    ax.scatter(pts[:, c], pts[:, r], s=size, color=color, linewidths=0)


def draw_projection(fig, box, hist_box, name, limits, ticks, layers, hists):
    ax = px_axes(fig, *box)
    for points, size, color in layers:
        pts = np.array(points)
        ax.scatter(pts[:, 0], pts[:, 1], s=size, color=color, linewidths=0)
    ax.set_xlim(limits[0])
    ax.set_ylim(limits[1])
    ax.set_xticks(ticks[0])
    ax.set_yticks(ticks[1])
    ax.set_xlabel(name + '1', fontsize=23)
    ax.set_ylabel(name + '2', fontsize=22)

    hist_ax = px_axes(fig, *hist_box)
    for heights, (lo, hi), color in hists:
        width = (hi - lo) / len(heights)
        lefts = np.linspace(lo, hi, len(heights) + 1)[:-1]
        hist_ax.bar(lefts, heights, width=width, align='edge', color=color, alpha=.5, linewidth=0)
    hist_ax.set_xlim(limits[0])
    hist_ax.set_ylim(limits[2])
    hist_ax.set_xticks(ticks[0])
    hist_ax.set_yticks(ticks[2])
    hist_ax.set_title(name + '1', fontsize=23, pad=8)
    for a in (ax, hist_ax):
        style_spines(a, '#666666', 2, full_box=True)
        a.tick_params(length=5, width=1.5, color='#555555', labelsize=12, labelcolor='#333333')


def draw_heatmap(fig, box, values, title, title_size, vmax):
    ax = px_axes(fig, *box)
    im = ax.imshow(values, cmap='viridis', vmin=.5, vmax=vmax, aspect='auto')
    ax.set_xticks(range(len(gamma_labels)))
    ax.set_xticklabels(gamma_labels)
    ax.set_yticks(range(len(alpha_labels)))
    ax.set_yticklabels(alpha_labels)
    ax.tick_params(labelsize=29, length=7, width=1.5)
    ax.set_xlabel('gamma value', fontsize=30, labelpad=2)
    ax.set_ylabel('alpha value', fontsize=30)
    ax.set_title(title, fontsize=title_size, pad=9)
    return im


if __name__ == "__main__":
    fig = plt.figure(figsize=(WIDTH / 100, HEIGHT / 100), dpi=100)

    draw_pairplot(fig)

    draw_projection(fig, (2244, 55, 2676, 521), (2763, 55, 3195, 521), 'PC',
                    [(-14.05, 24.9), (-19.6, 22.2), (0, 254.7)],
                    [[-10, -5, 0, 5, 10, 15, 20], [-15, -10, -5, 0, 5, 10, 15, 20], [0, 50, 100, 150, 200, 250]],
                    [(pca_gray_core, 1500, GRAY), (pca_green_points, 32, GREEN), (pca_gray_points, 32, GRAY),
                     (pca_gray_far_points, 32, GRAY), (pca_yellow_core, 900, YELLOW), (pca_yellow_points, 32, YELLOW)],
                    [(pca_hist_green, pca_hist_ranges[0], GREEN), (pca_hist_yellow, pca_hist_ranges[1], 'y'),
                     (pca_hist_gray, pca_hist_ranges[2], GRAY)])
    draw_projection(fig, (2243, 629, 2676, 1095), (2761, 629, 3195, 1095), 'SPC',
                    [(-12.3, 37.8), (-6.15, 23.3), (0, 332)],
                    [[-10, 0, 10, 20, 30], [-5, 0, 5, 10, 15, 20], [0, 50, 100, 150, 200, 250, 300]],
                    [(spca_green_core, 700, GREEN), (spca_green_points, 32, GREEN),
                     (spca_yellow_core, 700, YELLOW), (spca_yellow_points, 32, YELLOW),
                     (spca_gray_mid_points, 32, GRAY), (spca_gray_core, 1300, GRAY), (spca_gray_points, 32, GRAY)],
                    [(spca_hist_green, spca_hist_ranges[0], GREEN), (spca_hist_yellow, spca_hist_ranges[1], 'y'),
                     (spca_hist_gray, spca_hist_ranges[2], GRAY)])
    draw_projection(fig, (2247, 1200, 2673, 1656), (2758, 1200, 3182, 1656), 'DAPC',
                    [(-7.98, 6.05), (-15, 14.35), (0, 188)],
                    [[-6, -4, -2, 0, 2, 4, 6], [-15, -10, -5, 0, 5, 10], [0, 25, 50, 75, 100, 125, 150, 175]],
                    [(dapca_gray_core, 1000, '#8c8c8c'), (dapca_green_points, 36, GREEN),
                     (dapca_yellow_core, 700, YELLOW), (dapca_yellow_points, 36, YELLOW),
                     (dapca_gray_points, 36, '#999999')],
                    [(dapca_hist_green, dapca_hist_ranges[0], GREEN), (dapca_hist_yellow, dapca_hist_ranges[1], 'y'),
                     (dapca_hist_gray, dapca_hist_ranges[2], GRAY)])

    im = draw_heatmap(fig, (599, 1913, 1490, 2509), accuracy, 'Accuracy', 38, .984)
    draw_heatmap(fig, (1904, 1902, 2825, 2518), self_consistency, 'Self-consistency', 39, .98)
    cax = px_axes(fig, 1588, 1780, 1628, 2590)
    cbar = fig.colorbar(im, cax=cax, ticks=[.5, .6, .7, .8, .9])
    cbar.ax.tick_params(labelsize=30, length=7, width=1.5)

    # Hand-placed legend, method names and panel letters, in pixel coordinates
    overlay = fig.add_axes([0, 0, 1, 1], facecolor='none')
    overlay.set_xlim(0, WIDTH)
    overlay.set_ylim(HEIGHT, 0)
    overlay.axis('off')
    overlay.scatter([1603], [50], s=1400, color='#2a922a', linewidths=0)
    overlay.scatter([1604], [116], s=1300, color=YELLOW, linewidths=0)
    overlay.scatter([1707], [198], s=1300, color='#858585', linewidths=0)
    overlay.text(1642, 68, 'Source, Class 1', fontsize=41, family='Lato', va='baseline')
    overlay.text(1642, 136, 'Source, Class 2', fontsize=41, family='Lato', va='baseline')
    overlay.text(1745, 230, 'Target', fontsize=41, family='Lato', va='baseline')
    for label, y_mid in (('PCA', 274), ('SPCA', 889), ('DAPCA', 1432)):
        overlay.text(2072, y_mid, label, fontsize=52, family='Lato', rotation=90, ha='center', va='center')
    overlay.text(194, 1763, 'A', fontsize=64, family='Lato', weight='bold', ha='center', va='baseline')
    overlay.text(1997, 1735, 'B', fontsize=64, family='Lato', weight='bold', ha='center', va='baseline')
    overlay.text(396, 2589, 'C', fontsize=64, family='Lato', weight='bold', ha='center', va='baseline')
    overlay.text(2304, 1802, 'α = 1, γ = 100, β = 1, δ = 1, kNN=10', fontsize=41,
                 family=['Lato', 'DejaVu Sans'], va='baseline')

    fig.savefig('out.png', dpi=100, facecolor='white')
